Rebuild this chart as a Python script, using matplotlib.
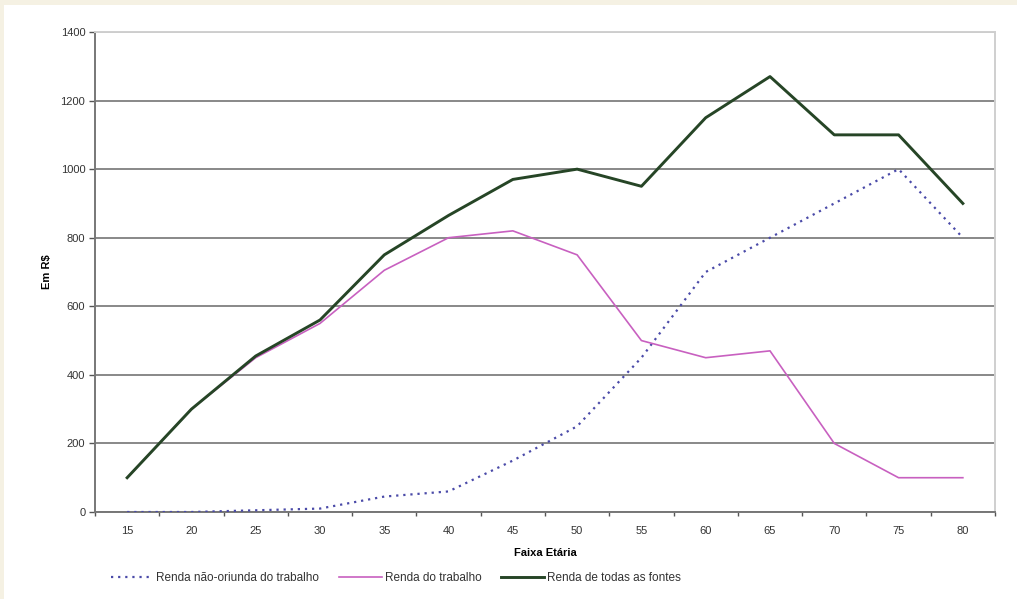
import matplotlib.pyplot as plt
from matplotlib.patches import Rectangle

plt.rcParams['font.family'] = ['Liberation Sans', 'DejaVu Sans']

# Renda média por faixa etária (R$)
faixas = [15, 20, 25, 30, 35, 40, 45, 50, 55, 60, 65, 70, 75, 80]
renda_nao_trabalho = [0, 0, 5, 10, 45, 60, 150, 250, 450, 700, 800, 900, 1000, 800]
renda_trabalho = [100, 300, 450, 550, 705, 800, 820, 750, 500, 450, 470, 200, 100, 100]
renda_total = [100, 300, 455, 560, 750, 865, 970, 1000, 950, 1150, 1270, 1100, 1100, 900]

fig = plt.figure(figsize=(10.17, 5.99), dpi=100, facecolor='#f5f1e3')
# painel branco com a borda creme à esquerda e no topo
fig.add_artist(Rectangle((4 / 1017, 0), 1, 1 - 5 / 599, transform=fig.transFigure,
                         facecolor='white', edgecolor='none', zorder=-1))

ax = fig.add_axes([95 / 1017, 1 - 512 / 599, 900 / 1017, 480 / 599])
ax.set_facecolor('white')

x = range(len(faixas))
ax.plot(x, renda_nao_trabalho, color='#4a4aa8', lw=1.6, linestyle=(0, (1, 2.2)),
        label='Renda não-oriunda do trabalho', zorder=3)
ax.plot(x, renda_trabalho, color='#c860c0', lw=1.2, label='Renda do trabalho', zorder=3)
ax.plot(x, renda_total, color='#264526', lw=2.1, label='Renda de todas as fontes', zorder=4)

ax.set_xlim(-0.5, len(faixas) - 0.5)
ax.set_ylim(0, 1400)
ax.set_yticks(range(0, 1401, 200))
ax.yaxis.grid(True, color='#888888', lw=1.4)
ax.set_axisbelow(True)

ax.set_xticks(list(x))
ax.set_xticklabels(faixas)
ax.set_xticks([i - 0.5 for i in range(len(faixas) + 1)], minor=True)
ax.tick_params(axis='x', which='major', length=0, pad=10, labelsize=8, colors='#333333')
ax.tick_params(axis='x', which='minor', length=3, width=1, color='#555555')
ax.tick_params(axis='y', length=4, width=1, color='#555555', labelsize=8,
               labelcolor='#333333', pad=3)

for s in ['left', 'bottom']:
    ax.spines[s].set_color('#777777')
    ax.spines[s].set_linewidth(1.4)
for s in ['top', 'right']:
    ax.spines[s].set_color('#cfcfcf')
    ax.spines[s].set_linewidth(1.4)

ax.set_xlabel('Faixa Etária', fontsize=8, fontweight='bold', labelpad=9)
ax.set_ylabel('Em R\\$', fontsize=8, fontweight='bold', labelpad=6)

fig.legend(loc='center left', bbox_to_anchor=(100 / 1017, 1 - 578 / 599), ncol=3,
           frameon=False, fontsize=8.5, handlelength=3.6, handletextpad=0.25,
           columnspacing=1.7, labelcolor='#333333')

fig.savefig('out.png', dpi=100, facecolor=fig.get_facecolor())
